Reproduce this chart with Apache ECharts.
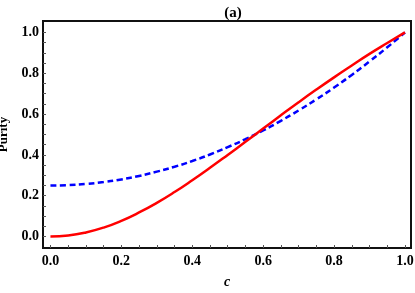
<!DOCTYPE html>
<html>
<head>
<meta charset="utf-8">
<script src="https://cdn.jsdelivr.net/npm/echarts@6/dist/echarts.min.js"></script>
<style>html,body{margin:0;padding:0;background:#fff;}#chart{width:415px;height:293px;}</style>
</head>
<body>
<div id="chart"></div>
<script>
// c values (x axis)
var cValues = [0,0.05,0.1,0.15,0.2,0.25,0.3,0.35,0.4,0.45,0.5,0.55,0.6,0.65,0.7,0.75,0.8,0.85,0.9,0.95,1.0];
// red solid curve
var redValues = [0,0.005,0.02,0.044,0.077,0.118,0.165,0.218,0.276,0.337,0.400,0.464,0.529,0.594,0.658,0.720,0.780,0.838,0.895,0.948,1.0];
// blue dashed curve
var blueValues = [0.25,0.252,0.258,0.267,0.28,0.297,0.318,0.342,0.37,0.402,0.438,0.477,0.52,0.567,0.618,0.672,0.73,0.792,0.858,0.927,1.0];
// tick values
var majorTicks = [0,0.2,0.4,0.6,0.8,1.0];
var minorTicks = [0,0.05,0.1,0.15,0.2,0.25,0.3,0.35,0.4,0.45,0.5,0.55,0.6,0.65,0.7,0.75,0.8,0.85,0.9,0.95,1.0];
var titleText = '(a)';
var xName = 'c';
var yName = 'Purity';

var serif = 'Liberation Serif';
function pairs(ys){ return cValues.map(function(c,i){ return [c, ys[i]]; }); }
function fmt(v){ return v.toFixed(1); }

var XMIN=-0.021, XMAX=1.017, YMIN=-0.056, YMAX=1.056;
var frameColor = '#111';

var option = {
  animation:false,
  backgroundColor:'#fff',
  title:{text:titleText, left:228, top:1, textAlign:'center',
    textStyle:{fontFamily: serif, fontWeight:'bold', fontSize:15, color:'#000'}},
  grid:{left:43, right:4, top:21, bottom:45, show:true, borderColor:frameColor, borderWidth:2, outerBoundsMode:'none'},
  xAxis:{type:'value', min:XMIN, max:XMAX, position:'bottom',
    axisLine:{show:true, onZero:false, lineStyle:{color:frameColor, width:2}},
    splitLine:{show:false},
    axisTick:{show:true, inside:true, length:3, customValues:minorTicks, lineStyle:{color:'#555'}},
    axisLabel:{customValues:majorTicks, formatter:fmt, color:'#000', fontFamily:serif, fontWeight:'bold', fontSize:14, margin:6},
    name:xName, nameLocation:'middle', nameGap:27,
    nameTextStyle:{fontFamily: serif, fontWeight:'bold', fontStyle:'italic', fontSize:14, color:'#000'}},
  yAxis:{type:'value', min:YMIN, max:YMAX, position:'left',
    axisLine:{show:true, onZero:false, lineStyle:{color:frameColor, width:2}},
    splitLine:{show:false},
    axisTick:{show:true, inside:true, length:3, customValues:minorTicks, lineStyle:{color:'#555'}},
    axisLabel:{customValues:majorTicks, formatter:fmt, color:'#000', fontFamily:serif, fontWeight:'bold', fontSize:14, margin:4},
    name:yName, nameLocation:'middle', nameGap:27,
    nameTextStyle:{fontFamily: serif, fontWeight:'bold', fontSize:13, color:'#000'}},
  series:[
    {type:'line', data:pairs(blueValues), smooth:true, symbol:'none',
      lineStyle:{color:'#0000ff', width:2.5, type:[6,3.5]}},
    {type:'line', data:pairs(redValues), smooth:true, symbol:'none',
      lineStyle:{color:'#ff0000', width:2.5}}
  ]
};
var chart = echarts.init(document.getElementById('chart'), null, {renderer:'canvas'});
chart.setOption(option);
</script>
</body>
</html>
